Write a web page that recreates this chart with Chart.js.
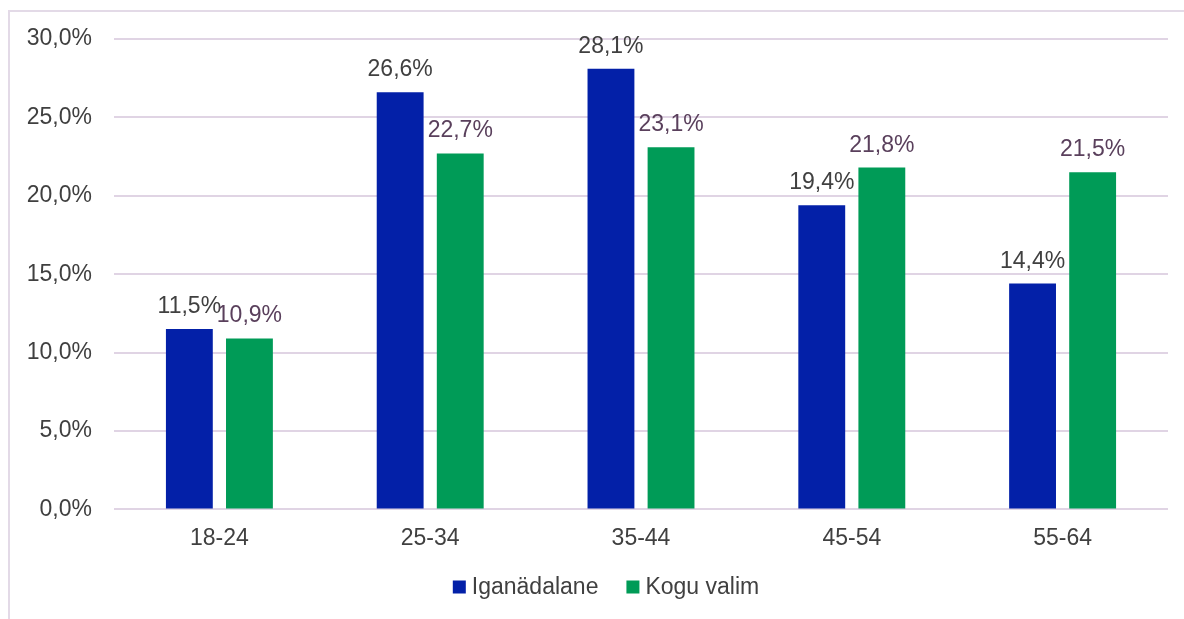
<!DOCTYPE html>
<html>
<head>
<meta charset="utf-8">
<script src="https://cdn.jsdelivr.net/npm/chart.js@4"></script>
<style>
  html, body { margin: 0; padding: 0; background: #fff; }
  #wrap { position: relative; width: 1184px; height: 619px; }
  #frame { position: absolute; left: 8px; top: 10px; right: 0; bottom: 0;
           border-top: 2px solid #e3dae7; border-left: 2px solid #e3dae7; }
  canvas { position: absolute; left: 0; top: 0; }
</style>
</head>
<body>
<div id="wrap">
  <div id="frame"></div>
  <canvas id="chart" width="1184" height="619"></canvas>
</div>
<script>
const CATEGORIES = ['18-24', '25-34', '35-44', '45-54', '55-64'];
const WEEKLY = [11.5, 26.6, 28.1, 19.4, 14.4];
const TOTAL = [10.9, 22.7, 23.1, 21.8, 21.5];
const SERIES_NAMES = ['Iganädalane', 'Kogu valim'];
const Y_TICKS = [0, 5, 10, 15, 20, 25, 30];

const FONT = '"Liberation Sans", Arial, sans-serif';
const pct = v => v.toFixed(1).replace('.', ',') + '%';

// labels above each bar
const barLabels = {
  id: 'barLabels',
  afterDatasetsDraw(chart) {
    const ctx = chart.ctx;
    ctx.save();
    ctx.font = '23px ' + FONT;
    ctx.textAlign = 'center';
    ctx.textBaseline = 'alphabetic';
    chart.data.datasets.forEach((ds, i) => {
      ctx.fillStyle = i === 0 ? '#404040' : '#5a405c';
      chart.getDatasetMeta(i).data.forEach((bar, j) => {
        ctx.fillText(pct(ds.data[j]), bar.x, bar.y - 16);
      });
    });
    ctx.restore();
  }
};

// legend drawn by hand so the spacing matches
const bottomLegend = {
  id: 'bottomLegend',
  afterDraw(chart) {
    const ctx = chart.ctx;
    ctx.save();
    ctx.font = '23px ' + FONT;
    ctx.textBaseline = 'middle';
    const items = chart.data.datasets.map(d => ({ text: d.label, color: d.backgroundColor, w: ctx.measureText(d.label).width }));
    const total = items.reduce((s, it) => s + 13 + 6 + it.w, 0) + 28 * (items.length - 1);
    let x = 606 - total / 2;
    const y = 587;
    items.forEach(it => {
      ctx.fillStyle = it.color;
      ctx.fillRect(x, y - 6.5, 13, 13);
      x += 19;
      ctx.fillStyle = '#404040';
      ctx.fillText(it.text, x, y + 1);
      x += it.w + 28;
    });
    ctx.restore();
  }
};

new Chart(document.getElementById('chart'), {
  type: 'bar',
  data: {
    labels: CATEGORIES,
    datasets: [
      { label: SERIES_NAMES[0], data: WEEKLY, backgroundColor: '#0320a8' },
      { label: SERIES_NAMES[1], data: TOTAL, backgroundColor: '#009b57' },
    ]
  },
  options: {
    responsive: false,
    animation: false,
    layout: { padding: { top: 39, right: 16, bottom: 60, left: 0 } },
    datasets: { bar: { categoryPercentage: 0.57, barPercentage: 0.78 } },
    plugins: {
      tooltip: { enabled: false },
      legend: { display: false }
    },
    scales: {
      x: {
        grid: { display: false },
        border: { display: false },
        ticks: { color: '#404040', padding: 7, font: { family: FONT, size: 23 } }
      },
      y: {
        min: 0, max: 30,
        afterFit: s => { s.width = 114; },
        afterBuildTicks: s => { s.ticks = Y_TICKS.map(v => ({ value: v })); },
        grid: { color: '#e0d4e4', lineWidth: 2, drawTicks: false },
        border: { display: false },
        ticks: { color: '#404040', padding: 22, font: { family: FONT, size: 23 }, callback: v => pct(v) }
      }
    }
  },
  plugins: [barLabels, bottomLegend]
});
</script>
</body>
</html>
